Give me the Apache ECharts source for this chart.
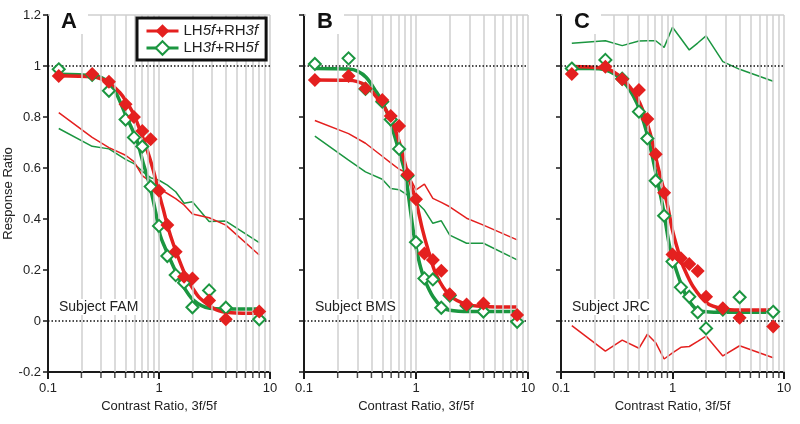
<!DOCTYPE html>
<html>
<head>
<meta charset="utf-8">
<script src="https://cdn.jsdelivr.net/npm/echarts@6/dist/echarts.min.js"></script>
<style>
html,body{margin:0;padding:0;background:#fff;}
#chart{width:800px;height:424px;}
</style>
</head>
<body>
<div id="chart"></div>
<script>
// ---- data ----
const panelLetters = ['A', 'B', 'C'];
const subjects = ['Subject FAM', 'Subject BMS', 'Subject JRC'];
const seriesNames = ['LH5f+RH3f', 'LH3f+RH5f'];
const xTitle = 'Contrast Ratio, 3f/5f';
const yTitle = 'Response Ratio';
const xTickLabels = ['0.1', '1', '10'];
const yTickLabels = ['-0.2', '0', '0.2', '0.4', '0.6', '0.8', '1', '1.2'];

// contrast ratios of the data points
const xs = [0.125, 0.25, 0.354, 0.5, 0.595, 0.707, 0.841, 1, 1.189, 1.414, 1.682, 2, 2.828, 4, 8];

// Panel A
const redA   = [0.961, 0.969, 0.938, 0.85, 0.80, 0.745, 0.713, 0.511, 0.376, 0.272, 0.174, 0.167, 0.08, 0.007, 0.037];
const greenA = [0.987, 0.965, 0.903, 0.79, 0.72, 0.684, 0.527, 0.373, 0.255, 0.18, 0.15, 0.054, 0.12, 0.052, 0.007];
const redThinA   = [0.817, 0.72, 0.68, 0.65, 0.625, 0.57, 0.545, 0.52, 0.50, 0.48, 0.455, 0.42, 0.405, 0.376, 0.259];
const greenThinA = [0.755, 0.685, 0.675, 0.634, 0.617, 0.587, 0.562, 0.552, 0.533, 0.507, 0.462, 0.468, 0.39, 0.392, 0.307];
const redFitA = [[0.125,0.962],[0.25,0.958],[0.3,0.95],[0.354,0.935],[0.445,0.895],[0.5,0.865],[0.585,0.815],[0.68,0.745],[0.77,0.68],[0.89,0.59],[1.0,0.50],[1.09,0.44],[1.2,0.37],[1.35,0.30],[1.55,0.23],[1.77,0.17],[2.0,0.13],[2.33,0.09],[3.3,0.043],[4.5,0.032],[8,0.03]];
const greenFitA = [[0.125,0.968],[0.25,0.963],[0.3,0.955],[0.354,0.935],[0.4,0.905],[0.51,0.80],[0.63,0.71],[0.72,0.62],[0.83,0.527],[0.94,0.42],[1.02,0.34],[1.09,0.305],[1.35,0.213],[1.6,0.148],[2.04,0.082],[2.87,0.05],[4,0.047],[8,0.047]];

// Panel B
const redB   = [0.945, 0.961, 0.912, 0.867, 0.804, 0.765, 0.575, 0.477, 0.265, 0.239, 0.197, 0.105, 0.065, 0.069, 0.024];
const greenB = [1.008, 1.03, 0.91, 0.86, 0.79, 0.675, 0.57, 0.309, 0.167, 0.163, 0.052, 0.10, 0.06, 0.037, -0.003];
const redThinB   = [0.786, 0.735, 0.697, 0.646, 0.62, 0.595, 0.58, 0.514, 0.537, 0.481, 0.465, 0.448, 0.403, 0.376, 0.318];
const greenThinB = [0.725, 0.631, 0.585, 0.556, 0.52, 0.515, 0.494, 0.468, 0.435, 0.383, 0.393, 0.337, 0.305, 0.305, 0.24];
const redFitB = [[0.125,0.945],[0.25,0.944],[0.354,0.925],[0.44,0.88],[0.5,0.85],[0.6,0.79],[0.7,0.71],[0.84,0.58],[1.0,0.47],[1.14,0.36],[1.28,0.28],[1.52,0.18],[2.0,0.10],[2.84,0.065],[4,0.057],[8,0.055]];
const greenFitB = [[0.125,0.99],[0.25,0.988],[0.3,0.98],[0.36,0.955],[0.44,0.90],[0.5,0.86],[0.57,0.80],[0.68,0.69],[0.8,0.58],[0.87,0.47],[0.94,0.36],[1.0,0.29],[1.1,0.21],[1.2,0.16],[1.42,0.095],[1.7,0.055],[2.0,0.042],[3,0.037],[8,0.037]];

// Panel C
const redC   = [0.969, 0.997, 0.948, 0.906, 0.792, 0.654, 0.503, 0.261, 0.246, 0.224, 0.196, 0.095, 0.05, 0.013, -0.022];
const greenC = [0.99, 1.024, 0.95, 0.821, 0.716, 0.55, 0.413, 0.233, 0.132, 0.095, 0.034, -0.029, 0.045, 0.093, 0.036];
const redThinC   = [-0.018, -0.118, -0.075, -0.107, -0.052, -0.085, -0.149, -0.125, -0.103, -0.1, -0.08, -0.059, -0.137, -0.097, -0.144];
const greenThinC = [1.089, 1.099, 1.08, 1.098, 1.099, 1.099, 1.073, 1.152, 1.108, 1.063, 1.09, 1.118, 1.017, 0.987, 0.94];
const redFitC = [[0.125,0.998],[0.18,0.996],[0.275,0.985],[0.39,0.932],[0.51,0.854],[0.63,0.736],[0.74,0.605],[0.89,0.465],[1.0,0.355],[1.08,0.3],[1.17,0.25],[1.25,0.213],[1.53,0.135],[2.04,0.07],[2.8,0.048],[4,0.043],[8,0.043]];
const greenFitC = [[0.125,0.99],[0.18,0.99],[0.25,0.985],[0.36,0.94],[0.48,0.854],[0.59,0.736],[0.70,0.592],[0.83,0.435],[0.95,0.285],[1.13,0.174],[1.34,0.095],[1.65,0.045],[2.0,0.036],[3,0.034],[8,0.034]];

// log-axis minor positions (grid lines / minor ticks)
const minorX = [0.2,0.3,0.4,0.5,0.6,0.7,0.8,0.9,2,3,4,5,6,7,8,9];
const gridX = [0.2,0.3,0.4,0.5,0.6,0.7,0.8,0.9,1,2,3,4,5,6,7,8,9,10];

// ---- styles ----
const RED = '#e4201f';
const GREEN = '#1b9640';
const FONT = 'Liberation Sans, Arial, sans-serif';
const gridBoxes = [
  {left: 48, width: 222},
  {left: 304, width: 224},
  {left: 561, width: 223}
];
const panelData = [
  {red: redA, green: greenA, redThin: redThinA, greenThin: greenThinA, redFit: redFitA, greenFit: greenFitA},
  {red: redB, green: greenB, redThin: redThinB, greenThin: greenThinB, redFit: redFitB, greenFit: greenFitB},
  {red: redC, green: greenC, redThin: redThinC, greenThin: greenThinC, redFit: redFitC, greenFit: greenFitC}
];
const pairs = arr => xs.map((x, j) => [x, arr[j]]);

const grids = [], xAxes = [], yAxes = [], series = [], graphics = [];
gridBoxes.forEach((g, i) => {
  grids.push({left: g.left, width: g.width, top: 15, height: 357, containLabel: false});
  xAxes.push({
    type: 'log', logBase: 10, min: 0.1, max: 10, gridIndex: i,
    axisLine: {onZero: false, lineStyle: {color: '#1a1a1a', width: 2}},
    axisTick: {length: 7, lineStyle: {color: '#1a1a1a', width: 2}},
    axisLabel: {fontSize: 13, fontFamily: FONT, color: '#222', margin: 10,
      formatter: v => xTickLabels[Math.round(Math.log10(v)) + 1]},
    splitLine: {show: false},
    name: xTitle, nameLocation: 'middle', nameGap: 28,
    nameTextStyle: {fontSize: 13, fontFamily: FONT, color: '#222'}
  });
  yAxes.push({
    type: 'value', min: -0.2, max: 1.2, interval: 0.2, gridIndex: i,
    axisLine: {show: true, onZero: false, lineStyle: {color: '#1a1a1a', width: 2}},
    axisTick: {show: true, length: 5, lineStyle: {color: '#1a1a1a', width: 1.5}},
    axisLabel: {show: i === 0, fontSize: 13, fontFamily: FONT, color: '#222', margin: 7,
      formatter: v => yTickLabels[Math.round((v + 0.2) / 0.2)]},
    splitLine: {show: false},
    name: i === 0 ? yTitle : '', nameLocation: 'middle', nameGap: 30,
    nameTextStyle: {fontSize: 13, fontFamily: FONT, color: '#222'}
  });
  const d = panelData[i];
  const common = {xAxisIndex: i, yAxisIndex: i, animation: false, silent: true};
  // light vertical grid + top border
  series.push(Object.assign({}, common, {
    type: 'line', data: [], z: 1,
    markLine: {silent: true, symbol: ['none', 'none'], label: {show: false}, animation: false,
      lineStyle: {color: '#cfcfcf', width: 1.5, type: 'solid'},
      data: gridX.map(v => ({xAxis: v})).concat([{yAxis: 1.2}])}
  }));
  // dotted reference lines at 0 and 1
  series.push(Object.assign({}, common, {
    type: 'line', data: [], z: 2,
    markLine: {silent: true, symbol: ['none', 'none'], label: {show: false}, animation: false,
      lineStyle: {color: '#111', width: 1.5, type: [1.5, 2]},
      data: [{yAxis: 0}, {yAxis: 1}]}
  }));
  // minor ticks on log axis
  series.push(Object.assign({}, common, {
    type: 'scatter', data: minorX.map(v => [v, -0.2]), z: 4, clip: false,
    symbol: 'rect', symbolSize: [1.5, 5], symbolOffset: [0, 3.5],
    itemStyle: {color: '#1a1a1a'}
  }));
  // thin lines
  series.push(Object.assign({}, common, {
    type: 'line', name: 'thinG' + i, data: pairs(d.greenThin), z: 3, symbol: 'none',
    lineStyle: {color: GREEN, width: 1.5}
  }));
  series.push(Object.assign({}, common, {
    type: 'line', name: 'thinR' + i, data: pairs(d.redThin), z: 3, symbol: 'none',
    lineStyle: {color: RED, width: 1.5}
  }));
  // fitted curves
  series.push(Object.assign({}, common, {
    type: 'line', name: 'fitG' + i, data: d.greenFit, z: 4, symbol: 'none', smooth: 0.3,
    lineStyle: {color: GREEN, width: 3.5}
  }));
  series.push(Object.assign({}, common, {
    type: 'line', name: 'fitR' + i, data: d.redFit, z: 4, symbol: 'none', smooth: 0.3,
    lineStyle: {color: RED, width: 3.5}
  }));
  // markers
  series.push(Object.assign({}, common, {
    type: 'line', name: seriesNames[1], data: pairs(d.green), z: 5,
    symbol: 'diamond', symbolSize: 12, showSymbol: true, showAllSymbol: true,
    lineStyle: {color: GREEN, width: 3, opacity: 0},
    itemStyle: {color: '#fff', borderColor: GREEN, borderWidth: 2}
  }));
  series.push(Object.assign({}, common, {
    type: 'line', name: seriesNames[0], data: pairs(d.red), z: 6,
    symbol: 'diamond', symbolSize: 14, showSymbol: true, showAllSymbol: true,
    lineStyle: {color: RED, width: 3, opacity: 0},
    itemStyle: {color: RED}
  }));
  // panel letter with white background
  graphics.push({type: 'rect', z: 100, shape: {x: g.left + 2, y: 0, width: 38, height: 34}, style: {fill: '#fff'}, silent: true});
  graphics.push({type: 'text', z: 101, left: g.left + 13, top: 11,
    style: {text: panelLetters[i], font: 'bold 22px ' + FONT, fill: '#111'}});
  graphics.push({type: 'text', z: 101, left: g.left + 10, top: 299,
    style: {text: subjects[i], font: '14px ' + FONT, fill: '#222', backgroundColor: '#fff', padding: [1, 1]}});
});

const chart = echarts.init(document.getElementById('chart'), null, {renderer: 'canvas'});
chart.setOption({
  animation: false,
  backgroundColor: '#fff',
  grid: grids,
  xAxis: xAxes,
  yAxis: yAxes,
  legend: {
    data: seriesNames.map(n => ({name: n})),
    orient: 'vertical', left: 137, top: 18,
    padding: [5, 8, 4, 8], itemGap: 1, itemWidth: 32, itemHeight: 17,
    backgroundColor: '#fff', borderColor: '#111', borderWidth: 3, borderRadius: 0,
    z: 120, selectedMode: false,
    lineStyle: {width: 3, opacity: 1},
    formatter: n => n.replace(/(\d)f/g, '{i|$1f}'),
    textStyle: {fontSize: 15, fontFamily: FONT, color: '#222', lineHeight: 16,
      rich: {i: {fontStyle: 'italic', fontSize: 15, fontFamily: FONT, color: '#222'}}}
  },
  graphic: graphics,
  series: series
});
</script>
</body>
</html>
